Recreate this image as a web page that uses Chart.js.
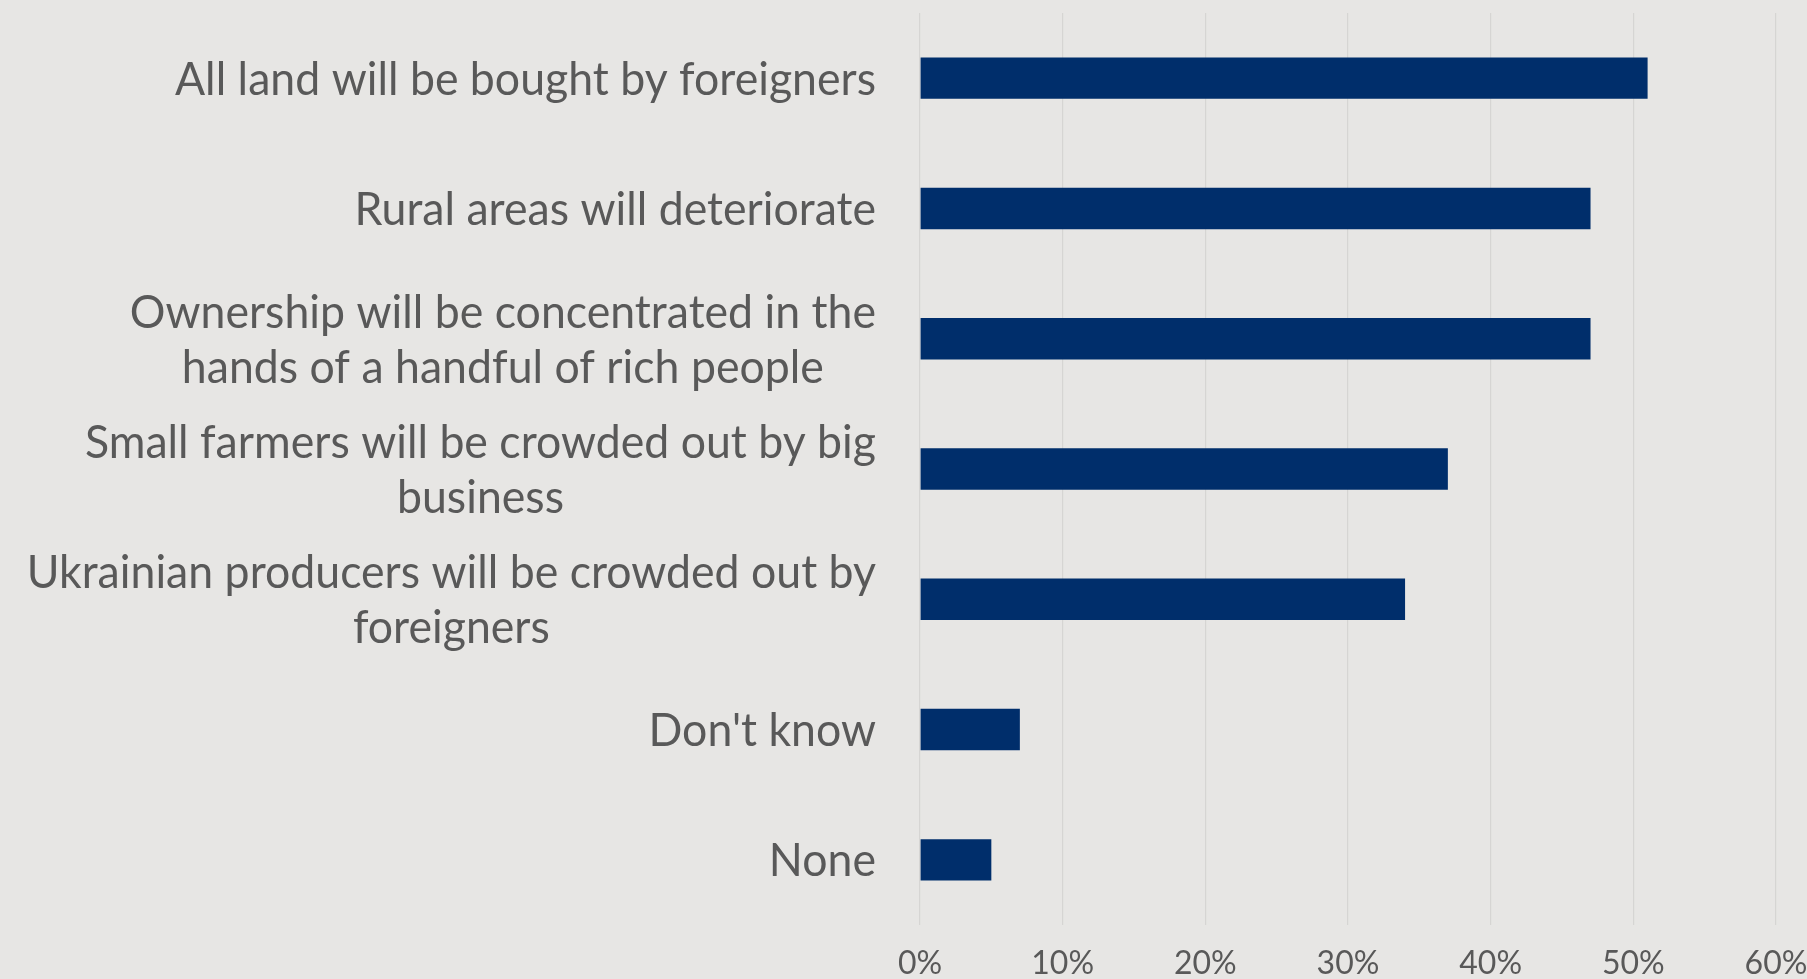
<!DOCTYPE html>
<html>
<head>
<meta charset="utf-8">
<script src="https://cdn.jsdelivr.net/npm/chart.js@4"></script>
<style>
  html, body { margin: 0; padding: 0; background: #E7E6E4; }
  #wrap { width: 1807px; height: 979px; }
</style>
</head>
<body>
<div id="wrap"><canvas id="chart" width="1807" height="979"></canvas></div>
<script>
// Expected consequences of opening the land market (share of respondents)
const categories = [
  ['All land will be bought by foreigners'],
  ['Rural areas will deteriorate'],
  ['Ownership will be concentrated in the', 'hands of a handful of rich people'],
  ['Small farmers will be crowded out by big', 'business'],
  ['Ukrainian producers will be crowded out by', 'foreigners'],
  ["Don't know"],
  ['None']
];
const shares = [51, 47, 47, 37, 34, 7, 5];
const tickValues = [0, 10, 20, 30, 40, 50, 60];

const TEXT = '#595959';
const LABEL_SIZE = 46;
const LABEL_RIGHT = 876;
const LINE_GAP = 55;
const LONGEST_WIDTH = 701;

// Category labels: right-aligned blocks, lines centred inside each block
const categoryLabels = {
  id: 'categoryLabels',
  afterDraw(chart) {
    const { ctx } = chart;
    const y = chart.scales.y;
    ctx.save();
    ctx.font = LABEL_SIZE + 'px Lato';
    const ref = ctx.measureText(categories[0][0]).width;
    const sx = LONGEST_WIDTH / ref;
    ctx.fillStyle = TEXT;
    ctx.textAlign = 'center';
    ctx.textBaseline = 'alphabetic';
    categories.forEach((lines, i) => {
      const yc = y.getPixelForValue(i);
      const block = Math.max(...lines.map(l => ctx.measureText(l).width * sx));
      const cx = LABEL_RIGHT - block / 2;
      lines.forEach((line, j) => {
        const ly = yc + (j - (lines.length - 1) / 2) * LINE_GAP + 0.358 * LABEL_SIZE;
        ctx.save();
        ctx.translate(cx, ly);
        ctx.scale(sx, 1);
        ctx.fillText(line, 0, 0);
        ctx.restore();
      });
    });
    ctx.restore();
  }
};

new Chart(document.getElementById('chart'), {
  type: 'bar',
  data: {
    labels: categories,
    datasets: [{
      data: shares,
      backgroundColor: '#002E6B',
      borderWidth: 0,
      categoryPercentage: 1,
      barPercentage: 0.318
    }]
  },
  options: {
    indexAxis: 'y',
    responsive: false,
    animation: false,
    layout: { padding: { left: 920, right: 31, top: 13, bottom: 0 } },
    plugins: { legend: { display: false }, tooltip: { enabled: false } },
    scales: {
      y: {
        display: false
      },
      x: {
        min: tickValues[0],
        max: tickValues[tickValues.length - 1],
        afterBuildTicks: s => { s.ticks = tickValues.map(v => ({ value: v })); },
        afterFit: s => {
          s.height = 54;
          s.paddingLeft = 0;
          s.paddingRight = 0;
        },
        grid: { color: '#D6D5D3', lineWidth: 1.2, drawTicks: false },
        border: { display: false },
        ticks: {
          padding: 19,
          color: TEXT,
          font: { family: 'Lato', size: 32 },
          maxRotation: 0,
          callback: v => v + '%'
        }
      }
    }
  },
  plugins: [categoryLabels]
});
</script>
</body>
</html>
